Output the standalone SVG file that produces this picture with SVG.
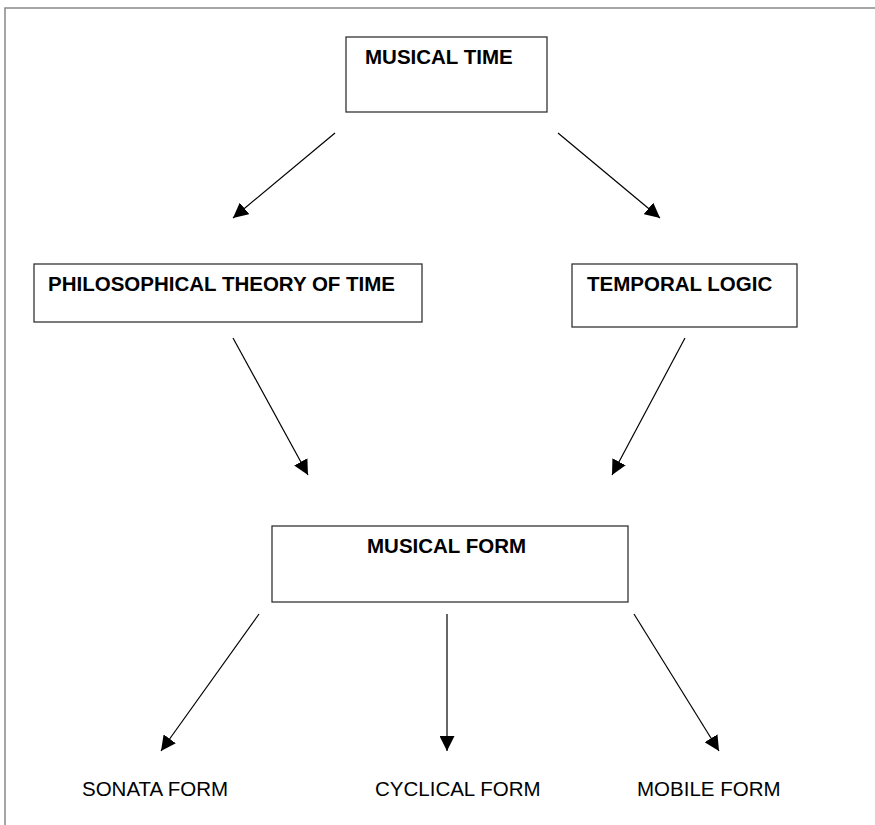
<svg xmlns="http://www.w3.org/2000/svg" width="875" height="825" viewBox="0 0 875 825">
<defs>
<style>
.box{fill:#fff;stroke:#333;stroke-width:1.3}
.bt{font-family:"Liberation Sans",Arial,sans-serif;font-weight:bold;font-size:20.5px;fill:#000}
.lt{font-family:"Liberation Sans",Arial,sans-serif;font-size:20.5px;fill:#000}
.edge{stroke:#000;stroke-width:1.2;fill:none;marker-end:url(#ah)}
.frame{stroke:#888;stroke-width:1.5;fill:none}
</style>
<marker id="ah" viewBox="0 0 10 10" refX="10" refY="5" markerWidth="15" markerHeight="15" markerUnits="userSpaceOnUse" orient="auto">
<path d="M0,0 L10,5 L0,10 z" fill="#000"/>
</marker>
</defs>
<rect width="875" height="825" fill="#fff"/>
<path class="frame" d="M5,825 L5,8 L875,8"/>
<g id="musical-time">
<rect class="box" x="346" y="37" width="201" height="75"/>
<text class="bt" x="365" y="64">MUSICAL TIME</text>
</g>
<g id="philosophical-theory">
<rect class="box" x="34" y="264" width="388" height="58"/>
<text class="bt" x="48" y="291">PHILOSOPHICAL THEORY OF TIME</text>
</g>
<g id="temporal-logic">
<rect class="box" x="572" y="264" width="225" height="63"/>
<text class="bt" x="587" y="291">TEMPORAL LOGIC</text>
</g>
<g id="musical-form">
<rect class="box" x="272" y="526" width="356" height="76"/>
<text class="bt" x="367" y="553">MUSICAL FORM</text>
</g>
<g id="sonata-form"><text class="lt" x="82" y="796">SONATA FORM</text></g>
<g id="cyclical-form"><text class="lt" x="375" y="796">CYCLICAL FORM</text></g>
<g id="mobile-form"><text class="lt" x="637" y="796">MOBILE FORM</text></g>
<g id="connectors">
<line class="edge" x1="335" y1="133" x2="233" y2="218"/>
<line class="edge" x1="558" y1="133" x2="660" y2="218"/>
<line class="edge" x1="233" y1="338" x2="308" y2="475"/>
<line class="edge" x1="685" y1="338" x2="612" y2="475"/>
<line class="edge" x1="259" y1="614" x2="161" y2="751"/>
<line class="edge" x1="447" y1="614" x2="447" y2="751"/>
<line class="edge" x1="634" y1="614" x2="719" y2="751"/>
</g>
</svg>
